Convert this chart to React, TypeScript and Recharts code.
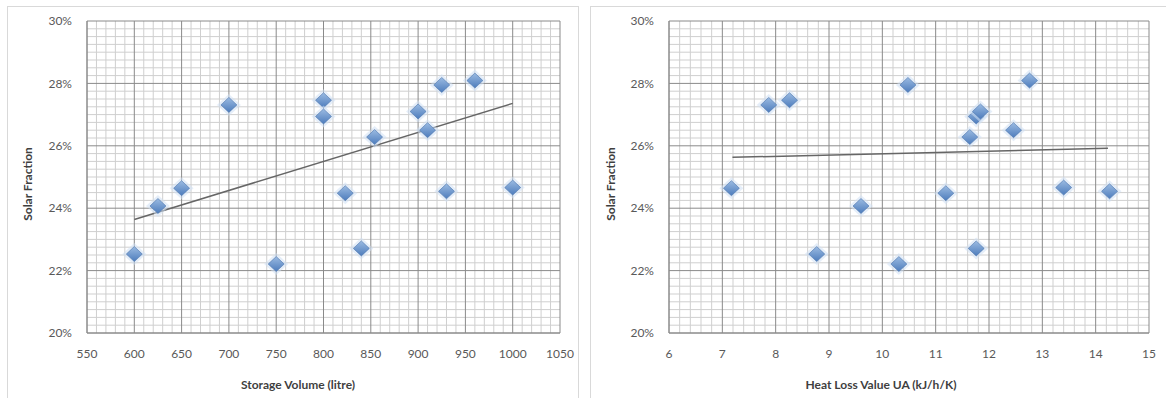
import { ScatterChart, Scatter, XAxis, YAxis, CartesianGrid, ReferenceLine } from "recharts";

// one row per system: tank volume, heat loss UA, solar fraction (%)
const storageVolume = [600, 625, 650, 700, 750, 800, 800, 823, 840, 854, 900, 910, 925, 930, 960, 1000];
const heatLossUA = [8.77, 9.6, 7.17, 7.87, 10.31, 8.26, 11.76, 11.19, 11.76, 11.64, 11.84, 12.46, 10.48, 14.26, 12.76, 13.4];
const solarFraction = [22.53, 24.07, 24.64, 27.31, 22.21, 27.46, 26.94, 24.48, 22.71, 26.28, 27.1, 26.5, 27.95, 24.54, 28.09, 24.66];

const volumeTicks = [550, 600, 650, 700, 750, 800, 850, 900, 950, 1000, 1050];
const uaTicks = [6, 7, 8, 9, 10, 11, 12, 13, 14, 15];
const fractionTicks = [20, 22, 24, 26, 28, 30];

// linear trendline end points as drawn
const volumeTrend = [{ x: 600, y: 23.64 }, { x: 1000, y: 27.36 }];
const uaTrend = [{ x: 7.19, y: 25.63 }, { x: 14.23, y: 25.92 }];

const FONT = "Lato, 'Liberation Sans', sans-serif";
const TICK = { fill: "#595959", fontSize: 12, fontFamily: FONT };

function minorValues(lo: number, hi: number, step: number, major: number) {
  const out: number[] = [];
  const n = Math.round((hi - lo) / step);
  for (let i = 1; i < n; i++) {
    const v = +(lo + i * step).toFixed(4);
    const r = (v - lo) / major;
    if (Math.abs(r - Math.round(r)) > 1e-6) out.push(v);
  }
  return out;
}

function makeDiamond(gradId: string) {
  return function Diamond(props: any) {
    const { cx, cy } = props;
    if (cx == null || cy == null) return null;
    const pts = (rx: number, ry: number) =>
      `${cx},${cy - ry} ${cx + rx},${cy} ${cx},${cy + ry} ${cx - rx},${cy}`;
    return (
      <g>
        <polygon points={pts(12, 11)} fill="#cfe0f4" opacity={0.55} />
        <polygon points={pts(8, 7.5)} fill={`url(#${gradId})`} stroke="#4a74ad" strokeWidth={0.6} />
      </g>
    );
  };
}

interface PanelProps {
  id: string;
  xs: number[];
  xDomain: [number, number];
  xTicks: number[];
  xMinorStep: number;
  trend: { x: number; y: number }[];
  width: number;
  marginRight: number;
}

function Panel({ id, xs, xDomain, xTicks, xMinorStep, trend, width, marginRight }: PanelProps) {
  const data = xs.map((x, i) => ({ x, y: solarFraction[i] }));
  const xMajor = xTicks[1] - xTicks[0];
  const vMinor = minorValues(xDomain[0], xDomain[1], xMinorStep, xMajor);
  const hMinor = minorValues(20, 30, 0.25, 2);
  const gradId = `diamond-${id}`;
  return (
    <ScatterChart width={width} height={398} margin={{ top: 21, right: marginRight, bottom: 35, left: 27 }}>
      <defs>
        <linearGradient id={gradId} x1="0" y1="0" x2="0" y2="1">
          <stop offset="0%" stopColor="#9bbbe2" />
          <stop offset="100%" stopColor="#4d7cbc" />
        </linearGradient>
      </defs>
      <CartesianGrid stroke="#cfcfcf" verticalValues={vMinor} horizontalValues={hMinor} />
      <CartesianGrid stroke="#8a8a8a" />
      <XAxis
        type="number"
        dataKey="x"
        domain={xDomain}
        ticks={xTicks}
        interval={0}
        tickLine={false}
        tickSize={0}
        tickMargin={16}
        height={30}
        axisLine={{ stroke: "#8a8a8a" }}
        tick={TICK}
      />
      <YAxis
        type="number"
        dataKey="y"
        domain={[20, 30]}
        ticks={fractionTicks}
        interval={0}
        tickLine={false}
        tickSize={0}
        tickMargin={15}
        width={60}
        axisLine={{ stroke: "#8a8a8a" }}
        tick={TICK}
        tickFormatter={(v: number) => `${v}%`}
      />
      <ReferenceLine segment={trend} stroke="#666666" strokeWidth={1.5} />
      <Scatter data={data} shape={makeDiamond(gradId)} isAnimationActive={false} />
    </ScatterChart>
  );
}

const titleStyle: React.CSSProperties = {
  position: "absolute",
  fontFamily: FONT,
  fontWeight: 700,
  fontSize: 12,
  color: "#3f3f3f",
  whiteSpace: "nowrap",
  transform: "translate(-50%, -50%)",
};

export default function App() {
  return (
    <div style={{ position: "absolute", left: 0, top: 0, width: 1166, height: 398, background: "#fff", overflow: "hidden" }}>
      <div style={{ position: "absolute", left: 7, top: 6, width: 570, height: 391, border: "1px solid #d9d9d9", borderBottom: "none" }} />
      <div style={{ position: "absolute", left: 590, top: 6, width: 580, height: 391, border: "1px solid #d9d9d9", borderBottom: "none" }} />
      <div style={{ position: "absolute", left: 0, top: 0 }}>
        <Panel
          id="vol"
          xs={storageVolume}
          xDomain={[550, 1050]}
          xTicks={volumeTicks}
          xMinorStep={10}
          trend={volumeTrend}
          width={580}
          marginRight={20}
        />
      </div>
      <div style={{ position: "absolute", left: 582, top: 0 }}>
        <Panel
          id="ua"
          xs={heatLossUA}
          xDomain={[6, 15]}
          xTicks={uaTicks}
          xMinorStep={0.2}
          trend={uaTrend}
          width={584}
          marginRight={17}
        />
      </div>
      <div style={{ ...titleStyle, left: 298, top: 384 }}>Storage Volume (litre)</div>
      <div style={{ ...titleStyle, left: 881, top: 384 }}>Heat Loss Value UA (kJ/h/K)</div>
      <div style={{ ...titleStyle, left: 27, top: 184, transform: "translate(-50%, -50%) rotate(-90deg)" }}>Solar Fraction</div>
      <div style={{ ...titleStyle, left: 610, top: 184, transform: "translate(-50%, -50%) rotate(-90deg)" }}>Solar Fraction</div>
    </div>
  );
}
